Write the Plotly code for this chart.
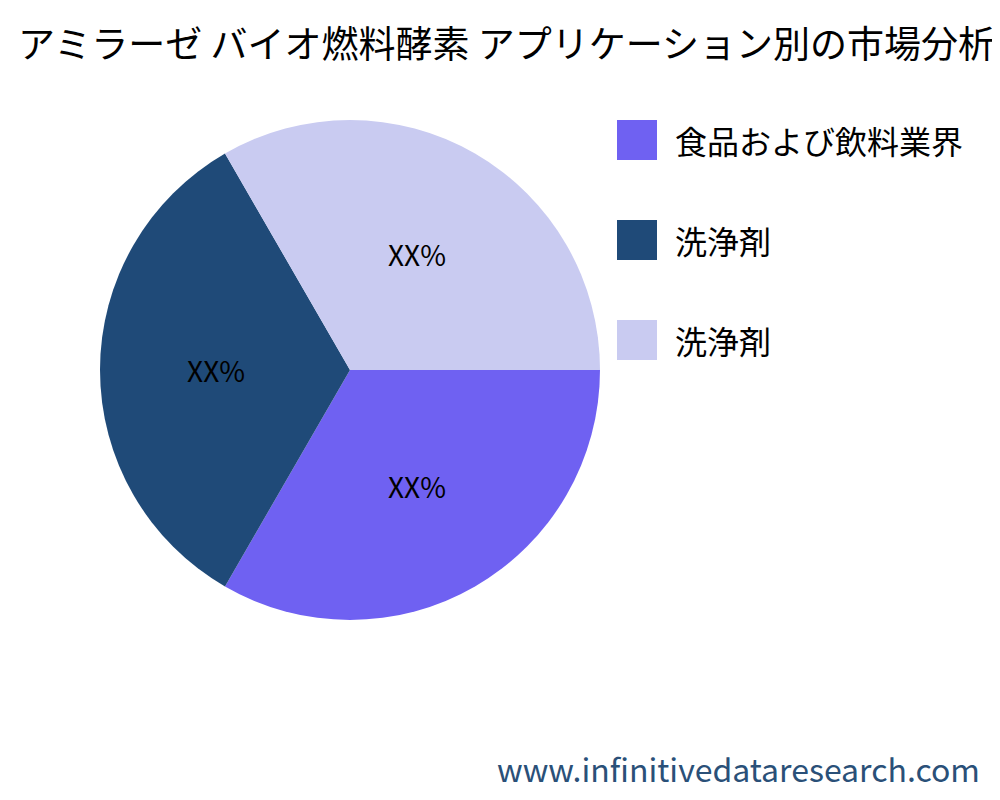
import plotly.graph_objects as go

title = "アミラーゼ バイオ燃料酵素 アプリケーション別の市場分析"
labels = ["食品および飲料業界", "洗浄剤", "洗浄剤 "]
values = [1, 1, 1]
colors = ["#6f61f2", "#1f4a78", "#c9cbf1"]
font = "Noto Sans CJK JP"
OFF = 8

def py(px):
    return 1 - (px - OFF) / 800

fig = go.Figure(go.Pie(
    labels=labels, values=values, sort=False, direction="clockwise", rotation=90,
    marker=dict(colors=colors), texttemplate="XX%", textposition="inside",
    insidetextfont=dict(size=28, color="black", family=font),
    domain=dict(x=[(100 - OFF) / 1000, (600 - OFF) / 1000], y=[py(620), py(120)]), showlegend=False,
))

shapes, anns = [], []
for i, (lab, c) in enumerate(zip(labels, colors)):
    top = 120 + 100 * i
    shapes.append(dict(type="rect", xref="paper", yref="paper",
                       x0=(617 - OFF) / 1000, x1=(657 - OFF) / 1000, y0=py(top + 40), y1=py(top),
                       fillcolor=c, line=dict(width=0)))
    anns.append(dict(text=lab.strip(), xref="paper", yref="paper", x=(673 - OFF) / 1000, y=py(top + 20),
                     xanchor="left", yanchor="middle", showarrow=False,
                     font=dict(size=32, color="black", family=font)))
anns.append(dict(text="www.infinitivedataresearch.com", xref="paper", yref="paper",
                 x=(982 - OFF) / 1000, y=py(768), xanchor="right", yanchor="middle", showarrow=False,
                 font=dict(size=32, color="#2a5078", family=font)))

fig.update_layout(
    width=1000, height=800, margin=dict(l=0, r=0, t=0, b=0),
    paper_bgcolor="white", plot_bgcolor="white",
    title=dict(text=title, x=(18 - OFF) / 1000, xanchor="left", y=py(45), yanchor="middle",
               font=dict(size=37, color="black", family=font)),
    shapes=shapes, annotations=anns,
)
fig.write_html("out.html")
